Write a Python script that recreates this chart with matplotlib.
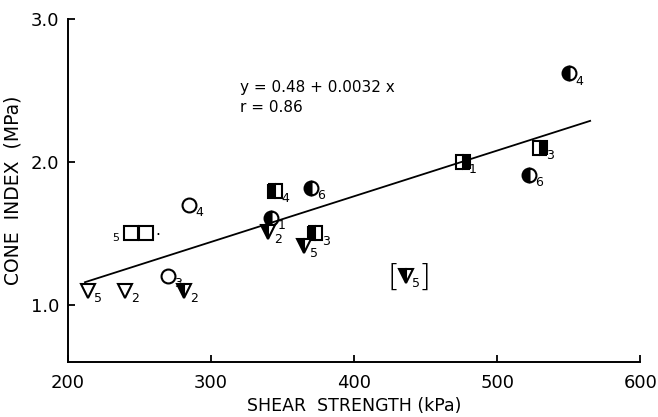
import matplotlib

matplotlib.use("Agg")
import matplotlib.pyplot as plt
import numpy as np

# shear strength (kPa) vs cone index (MPa)
SHEAR = [214, 240, 281, 270, 244, 255, 285, 342, 340, 345, 370, 373, 365, 436, 476, 530, 522, 550]
CONE = [1.10, 1.10, 1.10, 1.20, 1.50, 1.50, 1.70, 1.61, 1.51, 1.80, 1.82, 1.50, 1.41, 1.20, 2.00, 2.10, 1.91, 2.62]
SHAPE = ["v", "v", "v", "o", "s", "s", "o", "o", "v", "s", "o", "s", "v", "v", "s", "s", "o", "o"]
FILL = ["none", "none", "left", "none", "none", "none", "none", "left", "left", "left",
        "left", "left", "left", "left", "right", "right", "left", "left"]
SUB = ["5", "2", "2", "3", "", "", "4", "1", "2", "4", "6", "3", "5", "5", "1", "3", "6", "4"]

FIT_A, FIT_B = 0.48, 0.0032
FIT_X = [212, 565]

XTICKS = [200, 300, 400, 500, 600]
YTICKS = [1.0, 2.0, 3.0]

plt.rcParams["font.family"] = "DejaVu Sans"

fig = plt.figure(figsize=(6.58, 4.17), dpi=100)
ax = fig.add_axes([0.103, 0.132, 0.870, 0.822])

for x, y, m, f, s in zip(SHEAR, CONE, SHAPE, FILL, SUB):
    kw = dict(marker=m, markersize=10, markeredgecolor="black", markeredgewidth=1.5,
              linestyle="none")
    if f == "none":
        kw.update(markerfacecolor="white")
    else:
        kw.update(fillstyle=f, markerfacecolor="black", markerfacecoloralt="white")
    ax.plot([x], [y], **kw)
    if s:
        ax.annotate(s, (x, y), xytext=(4.5, -5.5), textcoords="offset points",
                    fontsize=9, ha="left", va="center")

# extra marks around the two open squares and the bracketed point
ax.annotate("5", (SHEAR[4], CONE[4]), xytext=(-11, -3), textcoords="offset points",
            fontsize=8, ha="center", va="center")
ax.annotate(".", (SHEAR[5], CONE[5]), xytext=(8, 2), textcoords="offset points",
            fontsize=11, ha="center", va="center")
ax.annotate("[", (SHEAR[13], CONE[13]), xytext=(-9, -1), textcoords="offset points",
            fontsize=22, ha="center", va="center", fontweight="light")
ax.annotate("]", (SHEAR[13], CONE[13]), xytext=(14, -1), textcoords="offset points",
            fontsize=22, ha="center", va="center", fontweight="light")

fx = np.array(FIT_X, dtype=float)
ax.plot(fx, FIT_A + FIT_B * fx, color="black", linewidth=1.3)

ax.text(320, 2.52, "y = 0.48 + 0.0032 x", fontsize=11, ha="left", va="center")
ax.text(320, 2.38, "r = 0.86", fontsize=11, ha="left", va="center")

ax.set_xlim(200, 600)
ax.set_ylim(0.6, 3.0)
ax.set_xticks(XTICKS)
ax.set_xticklabels([str(t) for t in XTICKS])
ax.set_yticks(YTICKS)
ax.set_yticklabels([f"{t:.1f}" for t in YTICKS])
ax.tick_params(direction="in", length=5, width=1.3, labelsize=13, pad=6)
ax.tick_params(axis="x", pad=9)
for side in ["top", "right"]:
    ax.spines[side].set_visible(False)
for side in ["left", "bottom"]:
    ax.spines[side].set_linewidth(1.4)

ax.set_xlabel("SHEAR  STRENGTH (kPa)", fontsize=12.5, labelpad=3)
ax.set_ylabel("CONE  INDEX  (MPa)", fontsize=13.5, labelpad=6)

fig.savefig("out.png", dpi=100)
